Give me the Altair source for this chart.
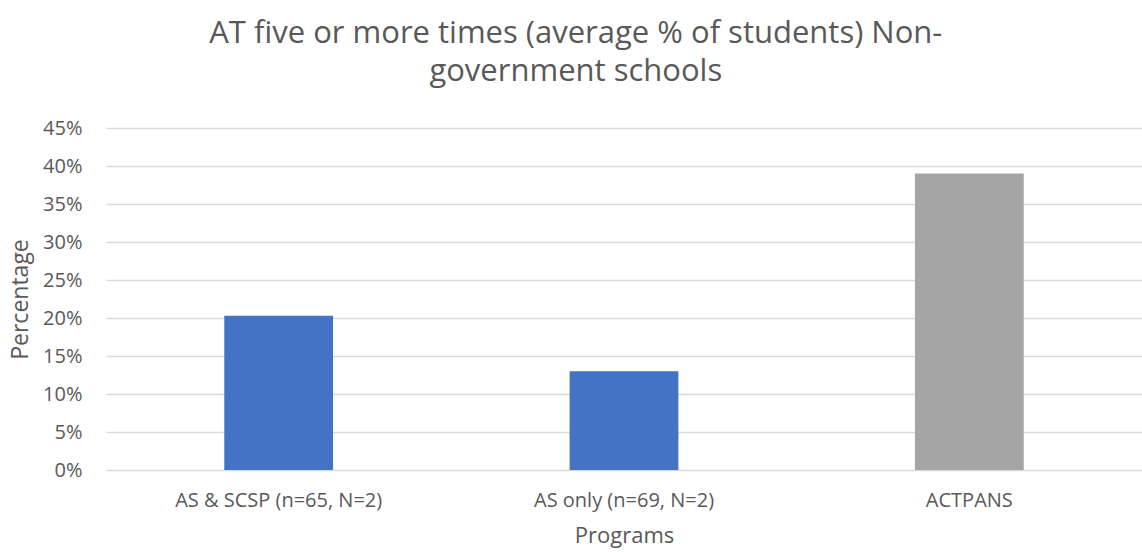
import altair as alt
import pandas as pd

# Share of students with five or more AT occurrences, by program
programs = ["AS & SCSP (n=65, N=2)", "AS only (n=69, N=2)", "ACTPANS"]
values = [0.203, 0.130, 0.390]
colors = ["#4472C4", "#4472C4", "#A5A5A5"]
y_ticks = [0, 0.05, 0.10, 0.15, 0.20, 0.25, 0.30, 0.35, 0.40, 0.45]

df = pd.DataFrame({"program": programs, "value": values, "color": colors})

font = "Open Sans"
text_color = "#595959"

chart = (
    alt.Chart(df)
    .mark_bar()
    .encode(
        x=alt.X(
            "program:N",
            sort=programs,
            title="Programs",
            scale=alt.Scale(paddingInner=0.685, paddingOuter=0.3425),
            axis=alt.Axis(
                labelAngle=0,
                labelFont=font,
                labelFontSize=20,
                labelColor=text_color,
                labelPadding=20,
                labelLimit=400,
                titleFont=font,
                titleFontSize=22,
                titleFontWeight="normal",
                titleColor=text_color,
                titlePadding=15,
                ticks=False,
                domain=False,
                grid=False,
            ),
        ),
        y=alt.Y(
            "value:Q",
            title="Percentage",
            scale=alt.Scale(domain=[0, 0.45], nice=False),
            axis=alt.Axis(
                values=y_ticks,
                format=".0%",
                labelFont=font,
                labelFontSize=20,
                labelColor=text_color,
                labelPadding=24,
                titleFont=font,
                titleFontSize=23,
                titleFontWeight="normal",
                titleColor=text_color,
                titlePadding=10,
                ticks=False,
                domain=False,
                grid=True,
                gridColor="#D9D9D9",
                gridWidth=1.3,
            ),
        ),
        color=alt.Color("color:N", scale=None, legend=None),
    )
    .properties(
        width=1036,
        height=342,
        title=alt.TitleParams(
            text=["AT five or more times (average % of students) Non-", "government schools"],
            font=font,
            fontSize=31,
            fontWeight="normal",
            color=text_color,
            anchor="middle",
            frame="bounds",
            lineHeight=38,
            offset=30,
        ),
        autosize=alt.AutoSizeParams(type="none"),
        padding={"left": 106, "top": 128, "right": 0, "bottom": 82},
    )
    .configure_view(stroke=None)
)

chart.save("out.html", embed_options={"renderer": "svg", "actions": False})
